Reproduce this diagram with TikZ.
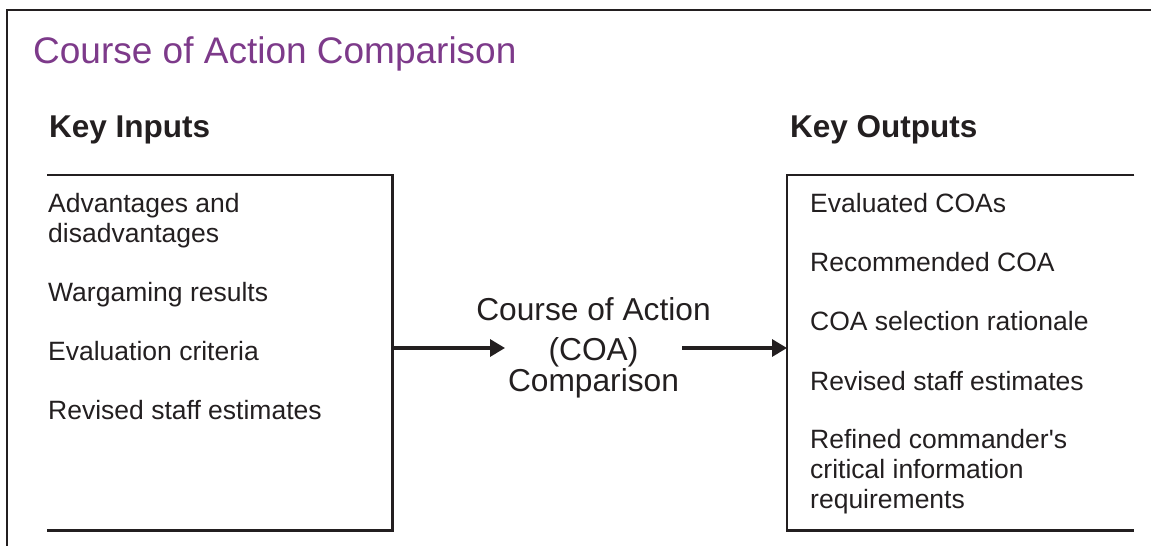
\documentclass[tikz,border=0pt]{standalone}
\usepackage{fontspec}
\setmainfont{Liberation Sans}
\usetikzlibrary{arrows.meta}
\definecolor{ink}{RGB}{35,31,32}
\definecolor{titlepurple}{RGB}{125,58,138}
\tikzset{
  frameline/.style={draw=ink, line width=2.6pt},
  boxline/.style={draw=ink, line width=2.4pt, line join=miter},
  arr/.style={draw=ink, line width=3.2pt, -{Triangle[length=15pt,width=17pt]}},
  bodytext/.style={anchor=base west, inner sep=0pt, text=ink, align=left,
    font=\fontsize{26.5}{29.7}\selectfont},
  headtext/.style={anchor=base west, inner sep=0pt, text=ink,
    font=\fontsize{31.5}{36}\selectfont\bfseries},
  boxarea/.style={draw=none, inner sep=0pt, anchor=north west}
}
\begin{document}
\begin{tikzpicture}[x=1pt,y=-1pt]
\useasboundingbox (0,0) rectangle (1151,546);
% outer frame (left and top sides only visible)
\draw[frameline] (7,560) -- (7,10) -- (1170,10);
% title
\node[anchor=base west, inner sep=0pt, text=titlepurple,
  font=\fontsize{37}{42}\selectfont] (title) at (33,63) {Course of Action Comparison};
% headings
\node[headtext] (kin) at (49,137) {Key Inputs};
\node[headtext] (kout) at (790,137) {Key Outputs};
% boxes
\node[boxarea, minimum width=345pt, minimum height=355pt] (inbox) at (47,175) {};
\node[boxarea, minimum width=347pt, minimum height=355pt] (outbox) at (787,175) {};
\draw[boxline] (inbox.north west) -- (inbox.north east) -- (inbox.south east) -- (inbox.south west);
\draw[boxline] (outbox.north east) -- (outbox.north west) -- (outbox.south west) -- (outbox.south east);
% input items (multi-line nodes are placed at the baseline of their last line)
\node[bodytext] (i1) at (48,242) {Advantages and\\disadvantages};
\node[bodytext] (i2) at (48,301) {Wargaming results};
\node[bodytext] (i3) at (48,360) {Evaluation criteria};
\node[bodytext] (i4) at (48,419) {Revised staff estimates};
% output items
\node[bodytext] (o1) at (810,212) {Evaluated COAs};
\node[bodytext] (o2) at (810,271) {Recommended COA};
\node[bodytext] (o3) at (810,330) {COA selection rationale};
\node[bodytext] (o4) at (810,390) {Revised staff estimates};
\node[bodytext] (o5) at (810,508) {Refined commander\textquotesingle s\\critical information\\requirements};
% centre process
\coordinate (mid) at (593.5,348);
\node[anchor=base, inner sep=0pt, text=ink, align=center,
  font=\fontsize{31.7}{29.5}\selectfont] (coa) at (593.5,391)
  {Course of Action\\[10pt](COA)\\Comparison};
\draw[arr] (inbox.east |- mid) -- ([xshift=-88.5pt]mid);
\draw[arr] ([xshift=88.5pt]mid) -- (outbox.west |- mid);
\end{tikzpicture}
\end{document}
